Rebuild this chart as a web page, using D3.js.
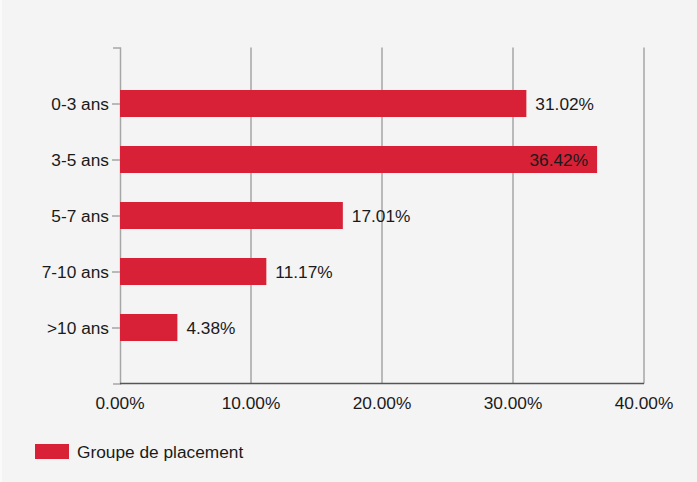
<!DOCTYPE html>
<html lang="fr">
<head>
  <meta charset="UTF-8" />
  <title>Groupe de placement</title>
  <script src="https://d3js.org/d3.v7.min.js"></script>
  <style>
    html, body { margin: 0; padding: 0; background: #fafafa; }
    svg { display: block; font-family: "Liberation Sans", Arial, sans-serif; }
    .grid line { stroke: #a6a6a6; stroke-width: 1.5px; }
    .y-axis path, .y-axis line { stroke: #a6a6a6; stroke-width: 1.5px; }
    .y-axis text, .x-label, .value, .legend text { fill: #1a1a1a; font-size: 17.3px; }
  </style>
</head>
<body>
  <svg id="chart"></svg>
  <script>
    const categories = ["0-3 ans", "3-5 ans", "5-7 ans", "7-10 ans", ">10 ans"];
    const values = [31.02, 36.42, 17.01, 11.17, 4.38];
    const xTicks = [0, 10, 20, 30, 40];
    const seriesName = "Groupe de placement";

    const width = 697, height = 482;
    const margin = { top: 47.5, right: 53, bottom: 98.5, left: 120 };
    const innerW = width - margin.left - margin.right;
    const innerH = height - margin.top - margin.bottom;
    const barColor = "#d82036";

    const svg = d3.select("#chart")
      .attr("width", width)
      .attr("height", height);

    // panel background (thin lighter strip on the left edge)
    svg.append("rect")
      .attr("x", 2).attr("y", 0)
      .attr("width", width - 2).attr("height", height)
      .attr("fill", "#f4f4f4");

    const g = svg.append("g")
      .attr("transform", `translate(${margin.left},${margin.top})`);

    const x = d3.scaleLinear().domain([0, 40]).range([0, innerW]);
    const y = d3.scalePoint().domain(categories).range([0, innerH]).padding(1);
    const barH = 27;

    // vertical gridlines
    g.append("g").attr("class", "grid")
      .selectAll("line")
      .data(xTicks.filter(d => d > 0))
      .enter().append("line")
      .attr("x1", d => x(d)).attr("x2", d => x(d))
      .attr("y1", 0).attr("y2", innerH);

    // y axis
    g.append("g").attr("class", "y-axis")
      .call(d3.axisLeft(y).tickSize(8).tickSizeOuter(7).tickPadding(3))
      .call(s => s.selectAll("text").style("font-size", "17.3px").attr("font-family", null));

    // x axis baseline
    g.append("line")
      .attr("x1", 0).attr("x2", innerW)
      .attr("y1", innerH).attr("y2", innerH)
      .attr("stroke", "#555").attr("stroke-width", 1.5);

    g.selectAll(".x-label")
      .data(xTicks)
      .enter().append("text")
      .attr("class", "x-label")
      .attr("x", d => x(d))
      .attr("y", innerH + 25)
      .attr("text-anchor", "middle")
      .text(d => d.toFixed(2) + "%");

    // bars
    const data = categories.map((c, i) => ({ cat: c, val: values[i] }));

    g.selectAll(".bar")
      .data(data)
      .enter().append("rect")
      .attr("class", "bar")
      .attr("x", 0)
      .attr("y", d => y(d.cat) - barH / 2)
      .attr("width", d => x(d.val))
      .attr("height", barH)
      .attr("fill", barColor);

    // value labels: outside unless they would run past the plot
    g.selectAll(".value")
      .data(data)
      .enter().append("text")
      .attr("class", "value")
      .attr("y", d => y(d.cat))
      .attr("dy", "0.35em")
      .each(function(d) {
        const t = d3.select(this).text(d.val.toFixed(2) + "%");
        const w = this.getComputedTextLength();
        if (x(d.val) + 9 + w > innerW) {
          t.attr("x", x(d.val) - 9).attr("text-anchor", "end");
        } else {
          t.attr("x", x(d.val) + 9).attr("text-anchor", "start");
        }
      });

    // legend
    const legend = svg.append("g").attr("class", "legend")
      .attr("transform", "translate(35,444)");
    legend.append("rect")
      .attr("width", 34).attr("height", 15)
      .attr("fill", barColor);
    legend.append("text")
      .attr("x", 42).attr("y", 7.5).attr("dy", "0.35em")
      .text(seriesName);
  </script>
</body>
</html>
